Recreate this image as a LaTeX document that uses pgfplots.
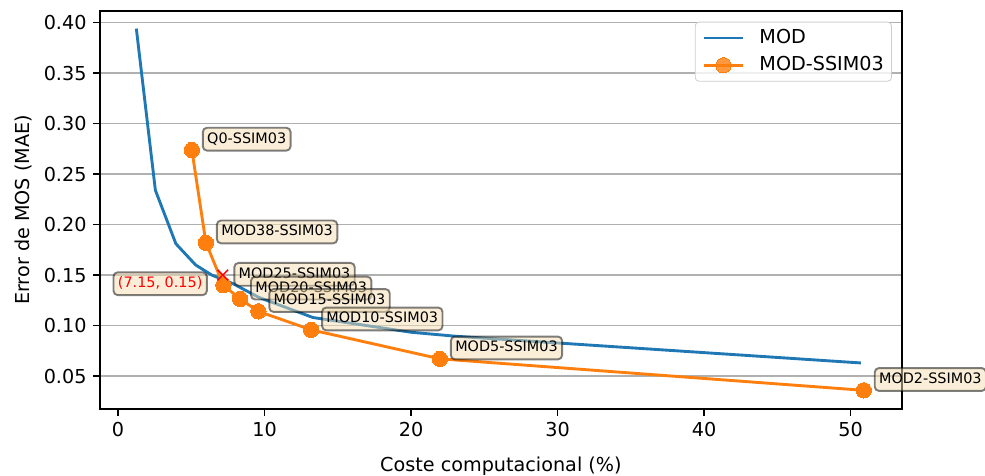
\documentclass[border=0pt]{standalone}
\usepackage{fontspec}
\setmainfont{DejaVu Sans}
\usepackage{pgfplots}
\usepackage{pgfplotstable}
\pgfplotsset{compat=1.18}

\definecolor{mplblue}{HTML}{1F77B4}
\definecolor{mplorange}{HTML}{FF7F0E}
\definecolor{wheat}{HTML}{F5DEB3}
\definecolor{gridgray}{HTML}{B0B0B0}

% Error vs. computational cost of the plain MOD sweep
\pgfplotstableread{
x     y
1.25  0.394
2.55  0.234
3.95  0.181
5.3   0.160
6.4   0.150
7.85  0.1415
9.6   0.128
13.3  0.108
20.0  0.0934
23.0  0.0895
50.7  0.063
}\modtable

% Error vs. computational cost of the SSIM-0.3 variants
\pgfplotstableread{
x     y       label
5.04  0.2738  Q0-SSIM03
6.0   0.182   MOD38-SSIM03
7.19  0.140   MOD25-SSIM03
8.33  0.1264  MOD20-SSIM03
9.58  0.1141  MOD15-SSIM03
13.18 0.0958  MOD10-SSIM03
21.97 0.0671  MOD5-SSIM03
50.9  0.0359  MOD2-SSIM03
}\ssimtable

\tikzset{
  annot/.style={
    draw=black, draw opacity=0.5, line width=1pt,
    fill=wheat, fill opacity=0.5, text opacity=1,
    rounded corners=2.2pt,
    inner xsep=2.3pt, inner ysep=2.3pt,
    text height=5.7pt, text depth=1.6pt,
    font=\fontsize{7.5}{9}\selectfont
  }
}

\begin{document}
\begin{tikzpicture}
\useasboundingbox (-52.1pt,-34.4pt) rectangle (461.1pt,213.1pt);
\begin{axis}[
  at={(0,0)}, anchor=south west,
  scale only axis,
  width=417.8pt, height=207.4pt,
  xmin=-1.23, xmax=53.5,
  ymin=0.0174, ymax=0.4115,
  clip=false,
  axis line style={line width=0.8pt},
  tick align=outside,
  tick pos=left,
  major tick length=3.5pt,
  every tick/.style={black, line width=0.8pt},
  xtick={0,10,20,30,40,50},
  ytick={0.05,0.10,0.15,0.20,0.25,0.30,0.35,0.40},
  yticklabel style={/pgf/number format/fixed, /pgf/number format/fixed zerofill, /pgf/number format/precision=2},
  /pgf/number format/assume math mode=true,
  ticklabel style={font=\fontsize{10}{12}\selectfont},
  ymajorgrids,
  grid style={gridgray, line width=0.8pt},
  xlabel={Coste computacional (\%)},
  ylabel={Error de MOS (MAE)},
  label style={font=\fontsize{10}{12}\selectfont},
  xlabel style={at={(axis description cs:0.5,-0.1557)}, anchor=base},
  ylabel style={at={(axis description cs:-0.0874,0.5)}, anchor=base},
  legend style={
    at={(axis description cs:1,1)}, anchor=north east,
    xshift=-5.2pt, yshift=-5.6pt,
    draw=black!20, fill=white, fill opacity=0.8, text opacity=1,
    rounded corners=2pt,
    font=\fontsize{10}{12}\selectfont,
    inner xsep=4pt, inner ysep=3.3pt,
    row sep=4.2pt,
    nodes={inner sep=0pt, text height=7.6pt, text depth=2.4pt},
    /tikz/every odd column/.append style={column sep=8pt},
  },
  legend cell align=left,
  legend image code/.code={
    \draw[mark repeat=2, mark phase=2, #1] plot coordinates {(0pt,0pt) (10pt,0pt) (20pt,0pt)};
  },
]
\addplot[mplblue, line width=1.5pt, mark=none] table[x=x, y=y] {\modtable};
\addlegendentry{MOD}

\addplot[mplorange, line width=1.5pt, mark=*, mark size=4pt,
  mark options={fill=mplorange, draw=mplorange, line width=0pt},
  point meta=explicit symbolic,
  nodes near coords,
  every node near coord/.style={annot, anchor=south west, xshift=5.2pt, yshift=-0.8pt, text=black},
] table[x=x, y=y, meta=label] {\ssimtable};
\addlegendentry{MOD-SSIM03}

% crossing point of both curves
\addplot[only marks, mark=x, mark size=3.9pt, red, line width=0.8pt, forget plot,
  nodes near coords={(7.15, 0.15)},
  every node near coord/.style={annot, anchor=east, xshift=-7.8pt, yshift=-4.5pt, text=red},
] coordinates {(7.15,0.15)};
\end{axis}
\end{tikzpicture}
\end{document}
